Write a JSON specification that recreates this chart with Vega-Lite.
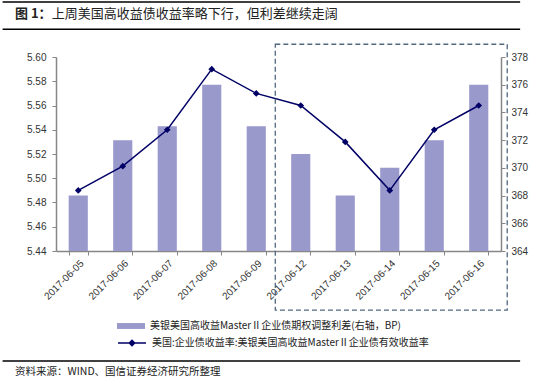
{
  "$schema": "https://vega.github.io/schema/vega-lite/v6.json",
  "width": 445,
  "height": 194,
  "autosize": {"type": "none"},
  "padding": {"left": 56, "top": 57, "right": 42, "bottom": 132},
  "background": "white",
  "config": {
    "view": {"stroke": null},
    "font": "Liberation Sans",
    "axis": {
      "domainColor": "#868686",
      "domainWidth": 1.5,
      "tickColor": "#868686",
      "tickSize": 4,
      "labelFont": "Liberation Sans",
      "labelFontSize": 10,
      "labelColor": "#333333",
      "labelOverlap": false,
      "grid": false,
      "title": null
    },
    "legend": {"padding": 0, "title": null}
  },
  "datasets": {
    "main": [
      {"date": "2017-06-05", "spread": 368, "yield": 5.49},
      {"date": "2017-06-06", "spread": 372, "yield": 5.51},
      {"date": "2017-06-07", "spread": 373, "yield": 5.54},
      {"date": "2017-06-08", "spread": 376, "yield": 5.59},
      {"date": "2017-06-09", "spread": 373, "yield": 5.57},
      {"date": "2017-06-12", "spread": 371, "yield": 5.56},
      {"date": "2017-06-13", "spread": 368, "yield": 5.53},
      {"date": "2017-06-14", "spread": 370, "yield": 5.49},
      {"date": "2017-06-15", "spread": 372, "yield": 5.54},
      {"date": "2017-06-16", "spread": 376, "yield": 5.56}
    ]
  },
  "layer": [
    {
      "data": {"name": "main"},
      "mark": {"type": "bar"},
      "encoding": {
        "x": {
          "field": "date", "type": "ordinal",
          "scale": {"paddingInner": 0.57, "paddingOuter": 0.285},
          "axis": {"labelAngle": -45, "labelPadding": 3, "tickBand": "extent", "labelOverlap": false, "title": null}
        },
        "y": {
          "field": "spread", "type": "quantitative",
          "scale": {"domain": [364, 378], "zero": false, "nice": false},
          "axis": {"orient": "right", "values": [364, 366, 368, 370, 372, 374, 376, 378], "labelPadding": 6, "labelOverlap": false, "title": null}
        },
        "y2": {"datum": 364},
        "fill": {
          "datum": "美银美国高收益MasterⅡ企业债期权调整利差(右轴，BP)",
          "type": "nominal",
          "scale": {"range": ["#9999cc"]},
          "legend": {
            "orient": "none", "legendX": 61, "legendY": 255,
            "symbolType": "M-1,-0.21H1V0.21H-1Z", "symbolSize": 784, "symbolStrokeWidth": 0,
            "labelFont": "Noto Sans CJK SC", "labelFontSize": 10, "labelColor": "#222222", "labelOffset": 5, "labelLimit": 400
          }
        }
      }
    },
    {
      "data": {"name": "main"},
      "layer": [
        {
          "mark": {"type": "line", "strokeWidth": 1.5},
          "encoding": {
            "x": {"field": "date", "type": "ordinal", "scale": {"paddingInner": 0.57, "paddingOuter": 0.285}, "axis": null},
            "y": {
              "field": "yield", "type": "quantitative",
              "scale": {"domain": [5.44, 5.60], "zero": false, "nice": false},
              "axis": {"orient": "left", "values": [5.44, 5.46, 5.48, 5.50, 5.52, 5.54, 5.56, 5.58, 5.60], "format": ".2f", "labelPadding": 6, "labelOverlap": false, "title": null}
            },
            "stroke": {
              "datum": "美国:企业债收益率:美银美国高收益MasterⅡ企业债有效收益率",
              "type": "nominal",
              "scale": {"range": ["#000066"]},
              "legend": {
                "orient": "none", "legendX": 61, "legendY": 271,
                "symbolType": "M-1,0H1M0,-0.2L0.2,0L0,0.2L-0.2,0Z", "symbolSize": 784, "symbolStrokeWidth": 1.3,
                "symbolFillColor": "#000066",
                "labelFont": "Noto Sans CJK SC", "labelFontSize": 10, "labelColor": "#222222", "labelOffset": 5, "labelLimit": 400,
                "encode": {"symbols": {"update": {"fill": {"value": "#000066"}}}}
              }
            }
          }
        },
        {
          "mark": {"type": "point", "shape": "diamond", "filled": true, "size": 45, "color": "#000066", "opacity": 1},
          "encoding": {
            "x": {"field": "date", "type": "ordinal", "scale": {"paddingInner": 0.57, "paddingOuter": 0.285}, "axis": null},
            "y": {
              "field": "yield", "type": "quantitative",
              "scale": {"domain": [5.44, 5.60], "zero": false, "nice": false},
              "axis": {"orient": "left", "values": [5.44, 5.46, 5.48, 5.50, 5.52, 5.54, 5.56, 5.58, 5.60], "format": ".2f", "labelPadding": 6, "labelOverlap": false, "title": null}
            }
          }
        }
      ]
    },
    {
      "data": {"values": [{}]},
      "layer": [
        {
          "mark": {"type": "rect", "fill": "white", "fillOpacity": 0, "stroke": "#50687f", "strokeWidth": 1.3, "strokeDash": [5, 3]},
          "encoding": {
            "x": {"datum": 4.928, "type": "quantitative", "scale": {"domain": [0, 10], "zero": false, "nice": false}, "axis": null},
            "x2": {"datum": 10.14},
            "y": {"datum": 5.6105, "type": "quantitative", "scale": {"domain": [5.44, 5.60], "zero": false, "nice": false}, "axis": null},
            "y2": {"datum": 5.3913}
          }
        },
        {
          "mark": {"type": "rule", "color": "#000000", "strokeWidth": 1.5},
          "encoding": {
            "x": {"datum": -1.2, "type": "quantitative", "axis": null},
            "x2": {"datum": 10.43},
            "y": {"datum": 5.6454, "type": "quantitative", "axis": null}
          }
        },
        {
          "mark": {"type": "rule", "color": "#000000", "strokeWidth": 1.5},
          "encoding": {
            "x": {"datum": -1.2, "type": "quantitative", "axis": null},
            "x2": {"datum": 10.43},
            "y": {"datum": 5.6228, "type": "quantitative", "axis": null}
          }
        },
        {
          "mark": {"type": "rule", "color": "#000000", "strokeWidth": 1.5},
          "encoding": {
            "x": {"datum": -1.2, "type": "quantitative", "axis": null},
            "x2": {"datum": 10.43},
            "y": {"datum": 5.3493, "type": "quantitative", "axis": null}
          }
        },
        {
          "mark": {"type": "text", "text": "图 1：", "align": "left", "baseline": "middle", "font": "Noto Sans CJK SC", "fontSize": 13, "fontWeight": "bold", "color": "#222222"},
          "encoding": {
            "x": {"datum": -0.9213, "type": "quantitative", "axis": null},
            "y": {"datum": 5.6355, "type": "quantitative", "axis": null}
          }
        },
        {
          "mark": {"type": "text", "text": "上周美国高收益债收益率略下行，但利差继续走阔", "align": "left", "baseline": "middle", "font": "Noto Sans CJK SC", "fontSize": 13, "fontWeight": "normal", "color": "#222222"},
          "encoding": {
            "x": {"datum": -0.0966, "type": "quantitative", "axis": null},
            "y": {"datum": 5.6355, "type": "quantitative", "axis": null}
          }
        },
        {
          "mark": {"type": "text", "text": "资料来源：WIND、国信证券经济研究所整理", "align": "left", "baseline": "middle", "font": "Noto Sans CJK SC", "fontSize": 10.5, "color": "#222222"},
          "encoding": {
            "x": {"datum": -0.9213, "type": "quantitative", "axis": null},
            "y": {"datum": 5.3402, "type": "quantitative", "axis": null}
          }
        }
      ]
    }
  ],
  "resolve": {"scale": {"x": "independent", "y": "independent"}}
}
